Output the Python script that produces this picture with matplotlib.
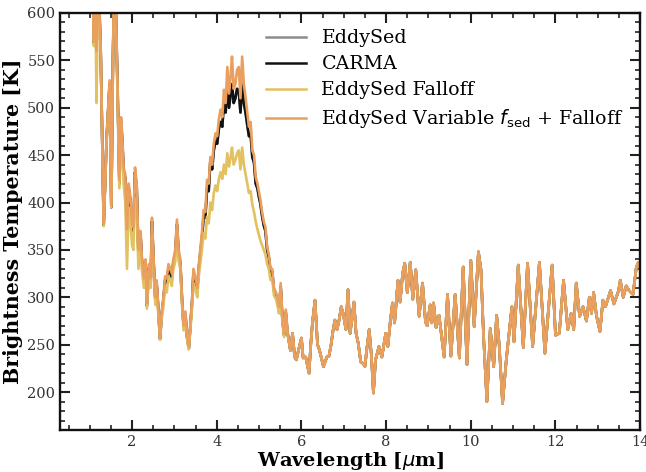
import matplotlib
matplotlib.use("Agg")
import matplotlib.pyplot as plt
from matplotlib.ticker import MultipleLocator

# ---------------- data ----------------
# short-wavelength part (1-5.7 um), where the models differ
wl_short = [1.06, 1.10, 1.13, 1.16, 1.20, 1.26, 1.33, 1.40, 1.47, 1.51, 1.55, 1.58, 1.62, 1.66,
            1.70, 1.74, 1.77, 1.80, 1.84, 1.88, 1.92, 1.96, 2.00, 2.03, 2.07, 2.11, 2.15, 2.20,
            2.23, 2.28, 2.32, 2.35, 2.40, 2.44, 2.47, 2.51, 2.55, 2.58, 2.62, 2.66, 2.70, 2.74,
            2.78, 2.82, 2.86, 2.90, 2.94, 2.97, 3.02, 3.06, 3.10, 3.14, 3.18, 3.22, 3.26, 3.30,
            3.34, 3.38, 3.42, 3.45, 3.50, 3.54, 3.57, 3.61, 3.65, 3.69, 3.73, 3.77, 3.81, 3.85,
            3.89, 3.93, 3.97, 4.01, 4.05, 4.09, 4.13, 4.17, 4.21, 4.25, 4.29, 4.33, 4.36, 4.40,
            4.44, 4.48, 4.52, 4.56, 4.60, 4.64, 4.68, 4.72, 4.76, 4.80, 4.84, 4.88, 4.92, 4.96,
            5.00, 5.03, 5.07, 5.11, 5.15, 5.19, 5.23, 5.27, 5.31, 5.35, 5.40, 5.43, 5.47, 5.51,
            5.55, 5.59, 5.63, 5.67]

varfsed_short = [650, 570, 640, 560, 650, 560, 378, 470, 529, 397, 560, 640, 600, 519,
                 424, 490, 469, 437, 430, 372, 420, 406, 380, 374, 437, 420, 350, 370,
                 343, 320, 340, 294, 335, 320, 384, 340, 300, 318, 290, 258, 285, 300,
                 322, 320, 335, 330, 325, 339, 350, 382, 350, 340, 300, 270, 285, 260,
                 248, 275, 300, 330, 320, 310, 332, 350, 368, 392, 390, 424, 420, 448,
                 440, 462, 473, 470, 488, 498, 490, 519, 505, 543, 515, 535, 554, 520,
                 525, 540, 543, 510, 554, 525, 511, 495, 480, 485, 455, 450, 427, 420,
                 410, 403, 390, 380, 374, 353, 345, 330, 330, 310, 305, 300, 290, 315,
                 280, 262, 287, 265]

carma_short = [645, 568, 638, 558, 645, 558, 376, 468, 525, 395, 556, 636, 596, 515,
               420, 485, 465, 433, 426, 366, 416, 402, 376, 370, 432, 415, 345, 366,
               340, 316, 336, 291, 331, 316, 380, 336, 297, 315, 287, 256, 282, 297,
               318, 316, 331, 326, 321, 335, 346, 377, 346, 336, 297, 267, 282, 258,
               246, 272, 297, 326, 316, 306, 328, 346, 362, 385, 384, 415, 412, 445,
               435, 455, 465, 462, 478, 485, 480, 505, 495, 522, 500, 515, 525, 505,
               510, 520, 518, 495, 525, 505, 495, 482, 470, 472, 448, 442, 420, 415,
               405, 399, 386, 376, 370, 350, 342, 327, 327, 307, 302, 297, 287, 311,
               277, 260, 284, 263]

eddysed_short = carma_short  # hidden beneath CARMA in the figure

falloff_short = [640, 565, 630, 505, 640, 555, 375, 465, 520, 395, 550, 630, 590, 505,
                 415, 475, 455, 420, 400, 330, 395, 380, 355, 350, 405, 395, 330, 355,
                 330, 310, 325, 288, 325, 310, 365, 330, 292, 308, 282, 255, 278, 290,
                 312, 305, 322, 318, 312, 328, 338, 362, 338, 330, 292, 265, 278, 255,
                 245, 268, 290, 315, 308, 300, 320, 335, 350, 368, 362, 385, 378, 400,
                 392, 410, 418, 412, 425, 432, 425, 440, 430, 452, 438, 448, 458, 440,
                 445, 452, 455, 435, 458, 440, 430, 420, 410, 412, 398, 390, 380, 372,
                 365, 360, 355, 350, 345, 335, 330, 318, 320, 302, 298, 292, 283, 305,
                 274, 258, 282, 262]

# long-wavelength part (5.7-14 um), where all four models overlap
wl_long = [5.71, 5.74, 5.79, 5.84, 5.88, 5.93, 6.00, 6.04, 6.10, 6.18, 6.22, 6.26, 6.32, 6.38,
           6.42, 6.45, 6.52, 6.60, 6.65, 6.70, 6.75, 6.79, 6.84, 6.89, 6.94, 6.99, 7.05, 7.10,
           7.15, 7.24, 7.29, 7.34, 7.40, 7.46, 7.50, 7.54, 7.60, 7.65, 7.70, 7.75, 7.83, 7.90,
           7.99, 8.04, 8.10, 8.15, 8.20, 8.28, 8.33, 8.39, 8.44, 8.50, 8.57, 8.63, 8.70, 8.78,
           8.86, 8.93, 8.97, 9.04, 9.08, 9.12, 9.18, 9.25, 9.37, 9.45, 9.53, 9.63, 9.73, 9.82,
           9.91, 10.00, 10.08, 10.18, 10.24, 10.30, 10.38, 10.46, 10.54, 10.61, 10.67, 10.75,
           10.84, 10.97, 11.02, 11.12, 11.24, 11.34, 11.46, 11.62, 11.75, 11.92, 12.00, 12.09,
           12.19, 12.29, 12.37, 12.43, 12.49, 12.57, 12.65, 12.73, 12.80, 12.85, 12.90, 12.97,
           13.05, 13.12, 13.18, 13.25, 13.30, 13.38, 13.49, 13.53, 13.60, 13.67, 13.74, 13.83,
           13.91, 13.96, 14.00]

T_long = [252, 244, 262, 237, 234, 244, 257, 236, 237, 220, 250, 273, 297, 250,
          245, 240, 227, 237, 238, 250, 266, 276, 266, 276, 290, 282, 266, 308,
          262, 295, 262, 252, 232, 230, 227, 244, 266, 240, 199, 234, 248, 237,
          262, 248, 275, 294, 273, 318, 295, 325, 336, 305, 337, 298, 329, 280,
          315, 274, 270, 292, 273, 294, 268, 281, 237, 303, 238, 303, 236, 332,
          229, 339, 269, 348, 329, 260, 190, 267, 227, 281, 250, 188,
          235, 290, 253, 334, 247, 336, 248, 337, 241, 334, 260, 262,
          318, 266, 283, 266, 315, 280, 290, 275, 300, 283, 305, 280,
          264, 297, 290, 300, 307, 293, 307, 318, 300, 312, 307, 303,
          332, 337, 330]

labels = ["EddySed", "CARMA", "EddySed Falloff", r"EddySed Variable $f_{\rm sed}$ + Falloff"]
colors = ["#8c8c8c", "#111111", "#E2C160", "#EA9F5E"]

# ---------------- plot ----------------
plt.rcParams["font.family"] = "DejaVu Serif"
plt.rcParams["mathtext.fontset"] = "dejavusans"

fig = plt.figure(figsize=(6.46, 4.72), dpi=100)
ax = fig.add_axes([0.093, 0.089, 0.898, 0.8835])

series = [eddysed_short, carma_short, falloff_short, varfsed_short]
for vals, lab, col in zip(series, labels, colors):
    ax.plot(wl_short + wl_long, vals + T_long, color=col, lw=1.9, label=lab)

ax.set_xlim(0.3, 14)
ax.set_ylim(160, 600)
ax.xaxis.set_major_locator(MultipleLocator(2))
ax.xaxis.set_minor_locator(MultipleLocator(0.5))
ax.yaxis.set_major_locator(MultipleLocator(50))
ax.yaxis.set_minor_locator(MultipleLocator(10))
ax.tick_params(which="both", direction="in", top=True, right=True, colors="#222222",
               labelcolor="#333333", labelsize=10.5)
ax.tick_params(which="major", length=7, width=1.5)
ax.tick_params(which="minor", length=3.5, width=1.2)
for sp in ax.spines.values():
    sp.set_linewidth(1.7)
    sp.set_color("#111111")

ax.set_xlabel(r"Wavelength [$\mu$m]", fontsize=14, fontweight="bold", labelpad=1)
ax.set_ylabel("Brightness Temperature [K]", fontsize=14.8, fontweight="bold", labelpad=3)

leg = ax.legend(loc="upper left", bbox_to_anchor=(0.326, 1.002), frameon=False,
                fontsize=13.7, handlelength=2.1, handletextpad=0.8, labelspacing=0.42,
                borderpad=0.4)
for h in leg.get_lines():
    h.set_linewidth(1.8)

fig.savefig("out.png", dpi=100)
